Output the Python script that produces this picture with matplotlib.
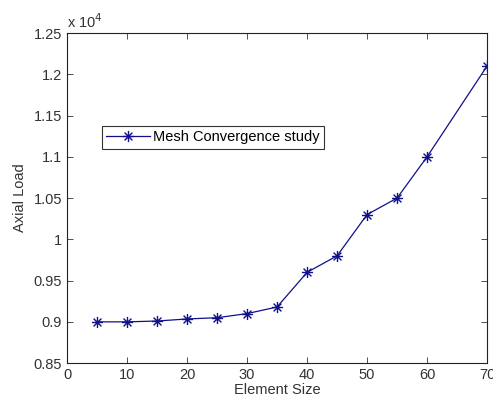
import matplotlib
matplotlib.use("Agg")
import matplotlib.pyplot as plt
from matplotlib.ticker import FuncFormatter
from matplotlib.path import Path

# data (axial load in N)
element_size = [5, 10, 15, 20, 25, 30, 35, 40, 45, 50, 55, 60, 70]
axial_load = [9000, 9000, 9010, 9035, 9050, 9100, 9180, 9600, 9800, 10300, 10500, 11000, 12100]

plt.rcParams["font.family"] = ["Liberation Sans", "DejaVu Sans"]
plt.rcParams["font.size"] = 10.5

# matlab style asterisk: + and x combined
d = 0.7071
asterisk = Path([(0, -1), (0, 1), (-1, 0), (1, 0), (-d, -d), (d, d), (-d, d), (d, -d)],
                [Path.MOVETO, Path.LINETO] * 4)

fig = plt.figure(figsize=(4.93, 4.03), dpi=100)
ax = fig.add_axes([0.136, 0.099, 0.852, 0.819])

ax.plot(element_size, axial_load, color="#10108a", linewidth=0.9,
        marker=asterisk, markersize=8, markeredgewidth=1.0,
        label="Mesh Convergence study")

ax.set_xlim(0, 70)
ax.set_ylim(8500, 12500)
ax.set_xticks(range(0, 71, 10))
ax.set_yticks(range(8500, 12501, 500))
ax.yaxis.set_major_formatter(FuncFormatter(lambda v, p: f"{v / 1e4:g}"))
ax.tick_params(direction="in", top=True, right=True, length=4, width=0.6,
               labelsize=10.5, colors="#333333", labelcolor="#333333")
for s in ax.spines.values():
    s.set_linewidth(0.8)
    s.set_color("#222222")

ax.text(0.0, 1.005, r"x 10$^{4}$", transform=ax.transAxes, ha="left", va="bottom",
        fontsize=10.5, color="#333333")

ax.set_xlabel("Element Size", color="#333333", labelpad=1)
ax.set_ylabel("Axial Load", color="#333333", labelpad=5)

leg = ax.legend(loc="upper left", bbox_to_anchor=(0.083, 0.718), frameon=True,
                fancybox=False, borderpad=0.3, handlelength=3.0, handletextpad=0.2,
                borderaxespad=0)
leg.get_frame().set_edgecolor("black")
leg.get_frame().set_linewidth(0.8)

fig.savefig("out.png", dpi=100)
